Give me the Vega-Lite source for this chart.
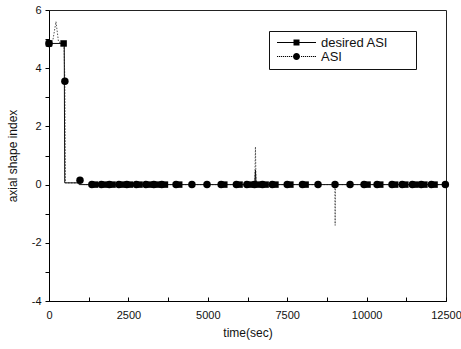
{
  "$schema": "https://vega.github.io/schema/vega-lite/v6.json",
  "width": 397,
  "height": 291,
  "autosize": {"type": "none"},
  "padding": {"left": 49, "top": 10, "right": 15, "bottom": 48},
  "background": "white",
  "config": {
    "view": {"stroke": "#222", "strokeWidth": 1},
    "axis": {"grid": false, "domainColor": "black", "tickColor": "black", "labelColor": "#111", "titleColor": "#111", "labelFont": "Liberation Sans", "titleFont": "Liberation Sans", "labelFontSize": 11, "titleFontSize": 12, "titleFontWeight": "normal"},
    "legend": {"labelFont": "Liberation Sans"}
  },
  "datasets": {
    "lines": [
      {"series": "desired ASI", "t": 0, "v": 4.85},
      {"series": "desired ASI", "t": 480, "v": 4.85},
      {"series": "desired ASI", "t": 495, "v": 0.06},
      {"series": "desired ASI", "t": 900, "v": 0.06},
      {"series": "desired ASI", "t": 950, "v": 0},
      {"series": "desired ASI", "t": 6480, "v": 0},
      {"series": "desired ASI", "t": 6500, "v": 0.5},
      {"series": "desired ASI", "t": 6520, "v": 0},
      {"series": "desired ASI", "t": 12500, "v": 0},
      {"series": "ASI", "t": 0, "v": 4.85},
      {"series": "ASI", "t": 120, "v": 4.95},
      {"series": "ASI", "t": 220, "v": 5.6},
      {"series": "ASI", "t": 300, "v": 4.9},
      {"series": "ASI", "t": 470, "v": 4.85},
      {"series": "ASI", "t": 500, "v": 3.55},
      {"series": "ASI", "t": 520, "v": 0.06},
      {"series": "ASI", "t": 900, "v": 0.06},
      {"series": "ASI", "t": 976, "v": 0.15},
      {"series": "ASI", "t": 1100, "v": 0},
      {"series": "ASI", "t": 6480, "v": 0},
      {"series": "ASI", "t": 6500, "v": 1.3},
      {"series": "ASI", "t": 6520, "v": 0},
      {"series": "ASI", "t": 9000, "v": 0},
      {"series": "ASI", "t": 9010, "v": -1.4},
      {"series": "ASI", "t": 9020, "v": 0},
      {"series": "ASI", "t": 12500, "v": 0}
    ],
    "markers": [
      {"series": "desired ASI", "t": 0, "v": 4.85},
      {"series": "desired ASI", "t": 460, "v": 4.85},
      {"series": "desired ASI", "t": 1450, "v": 0},
      {"series": "desired ASI", "t": 1750, "v": 0},
      {"series": "desired ASI", "t": 2000, "v": 0},
      {"series": "desired ASI", "t": 2300, "v": 0},
      {"series": "desired ASI", "t": 2550, "v": 0},
      {"series": "desired ASI", "t": 2850, "v": 0},
      {"series": "desired ASI", "t": 3150, "v": 0},
      {"series": "desired ASI", "t": 3400, "v": 0},
      {"series": "desired ASI", "t": 3650, "v": 0},
      {"series": "desired ASI", "t": 4100, "v": 0},
      {"series": "desired ASI", "t": 5520, "v": 0},
      {"series": "desired ASI", "t": 6000, "v": 0},
      {"series": "desired ASI", "t": 6330, "v": 0},
      {"series": "desired ASI", "t": 6570, "v": 0},
      {"series": "desired ASI", "t": 6820, "v": 0},
      {"series": "desired ASI", "t": 7130, "v": 0},
      {"series": "desired ASI", "t": 7600, "v": 0},
      {"series": "desired ASI", "t": 8080, "v": 0},
      {"series": "desired ASI", "t": 10030, "v": 0},
      {"series": "desired ASI", "t": 10430, "v": 0},
      {"series": "desired ASI", "t": 10900, "v": 0},
      {"series": "desired ASI", "t": 11220, "v": 0},
      {"series": "desired ASI", "t": 11540, "v": 0},
      {"series": "desired ASI", "t": 11820, "v": 0},
      {"series": "desired ASI", "t": 12140, "v": 0},
      {"series": "ASI", "t": 0, "v": 4.85},
      {"series": "ASI", "t": 500, "v": 3.55},
      {"series": "ASI", "t": 976, "v": 0.15},
      {"series": "ASI", "t": 1350, "v": 0},
      {"series": "ASI", "t": 1650, "v": 0},
      {"series": "ASI", "t": 1900, "v": 0},
      {"series": "ASI", "t": 2200, "v": 0},
      {"series": "ASI", "t": 2450, "v": 0},
      {"series": "ASI", "t": 2750, "v": 0},
      {"series": "ASI", "t": 3050, "v": 0},
      {"series": "ASI", "t": 3300, "v": 0},
      {"series": "ASI", "t": 3550, "v": 0},
      {"series": "ASI", "t": 4000, "v": 0},
      {"series": "ASI", "t": 4500, "v": 0},
      {"series": "ASI", "t": 4975, "v": 0},
      {"series": "ASI", "t": 5420, "v": 0},
      {"series": "ASI", "t": 5900, "v": 0},
      {"series": "ASI", "t": 6230, "v": 0},
      {"series": "ASI", "t": 6470, "v": 0},
      {"series": "ASI", "t": 6720, "v": 0},
      {"series": "ASI", "t": 7030, "v": 0},
      {"series": "ASI", "t": 7500, "v": 0},
      {"series": "ASI", "t": 7980, "v": 0},
      {"series": "ASI", "t": 8471, "v": 0},
      {"series": "ASI", "t": 9006, "v": 0},
      {"series": "ASI", "t": 9479, "v": 0},
      {"series": "ASI", "t": 9920, "v": 0},
      {"series": "ASI", "t": 10330, "v": 0},
      {"series": "ASI", "t": 10800, "v": 0},
      {"series": "ASI", "t": 11120, "v": 0},
      {"series": "ASI", "t": 11440, "v": 0},
      {"series": "ASI", "t": 11720, "v": 0},
      {"series": "ASI", "t": 12040, "v": 0},
      {"series": "ASI", "t": 12480, "v": 0}
    ]
  },
  "encoding": {
    "x": {
      "field": "t", "type": "quantitative",
      "scale": {"domain": [0, 12500], "nice": false, "zero": false},
      "axis": {"title": "time(sec)", "values": [0, 1250, 2500, 3750, 5000, 6250, 7500, 8750, 10000, 11250, 12500], "labelExpr": "datum.value % 2500 === 0 ? '' + datum.value : ''", "tickSize": -4, "labelPadding": 12, "titlePadding": 7, "labelFlush": false}
    },
    "y": {
      "field": "v", "type": "quantitative",
      "scale": {"domain": [-4, 6], "nice": false},
      "axis": {"title": "axial shape index", "values": [-4, -3, -2, -1, 0, 1, 2, 3, 4, 5, 6], "labelExpr": "datum.value % 2 === 0 ? '' + datum.value : ''", "tickSize": 4, "labelPadding": 4, "titlePadding": 12}
    }
  },
  "layer": [
    {
      "data": {"name": "lines"},
      "transform": [{"filter": "datum.series === 'ASI'"}],
      "mark": {"type": "line", "color": "#555", "strokeWidth": 1, "strokeDash": [1.5, 1.5], "interpolate": "linear"},
      "encoding": {"order": {"field": "t"}}
    },
    {
      "data": {"name": "lines"},
      "transform": [{"filter": "datum.series === 'desired ASI'"}],
      "mark": {"type": "line", "color": "#111", "strokeWidth": 1},
      "encoding": {"order": {"field": "t"}}
    },
    {
      "data": {"name": "markers"},
      "transform": [{"filter": "datum.series === 'desired ASI'"}],
      "mark": {"type": "point", "shape": "square", "filled": true, "color": "black", "size": 42, "opacity": 1}
    },
    {
      "data": {"name": "markers"},
      "transform": [{"filter": "datum.series === 'ASI'"}],
      "mark": {"type": "point", "shape": "circle", "filled": true, "color": "black", "size": 56, "opacity": 1}
    },
    {
      "data": {"name": "markers"},
      "mark": {"type": "point", "filled": true, "color": "black", "opacity": 0},
      "encoding": {
        "shape": {
          "field": "series", "type": "nominal",
          "scale": {"domain": ["desired ASI", "ASI"], "range": ["M-4.875,-0.125H4.875V0.125H-4.875ZM-0.75,-0.75H0.75V0.75H-0.75Z", "M-4.875,-0.125h0.3v0.25h-0.3ZM-4.375,-0.125h0.3v0.25h-0.3ZM-3.875,-0.125h0.3v0.25h-0.3ZM-3.375,-0.125h0.3v0.25h-0.3ZM-2.875,-0.125h0.3v0.25h-0.3ZM-2.375,-0.125h0.3v0.25h-0.3ZM-1.875,-0.125h0.3v0.25h-0.3ZM-1.375,-0.125h0.3v0.25h-0.3ZM1.125,-0.125h0.3v0.25h-0.3ZM1.625,-0.125h0.3v0.25h-0.3ZM2.125,-0.125h0.3v0.25h-0.3ZM2.625,-0.125h0.3v0.25h-0.3ZM3.125,-0.125h0.3v0.25h-0.3ZM3.625,-0.125h0.3v0.25h-0.3ZM4.125,-0.125h0.3v0.25h-0.3ZM4.575,-0.125h0.3v0.25h-0.3ZM-0.875,0A0.875,0.875 0 1,0 0.875,0A0.875,0.875 0 1,0 -0.875,0Z"]},
          "legend": {
            "title": "i", "titleOrient": "right", "titleColor": "white", "titleFontSize": 2, "titlePadding": 22,
            "orient": "none", "legendX": 220, "legendY": 21,
            "fillColor": "white", "strokeColor": "#111", "padding": 5,
            "symbolSize": 64, "symbolOpacity": 1, "symbolFillColor": "black", "symbolStrokeColor": "black", "symbolStrokeWidth": 0,
            "symbolOffset": 16, "labelOffset": 18, "labelFontSize": 13, "labelColor": "#111",
            "rowPadding": 0
          }
        }
      }
    }
  ]
}
